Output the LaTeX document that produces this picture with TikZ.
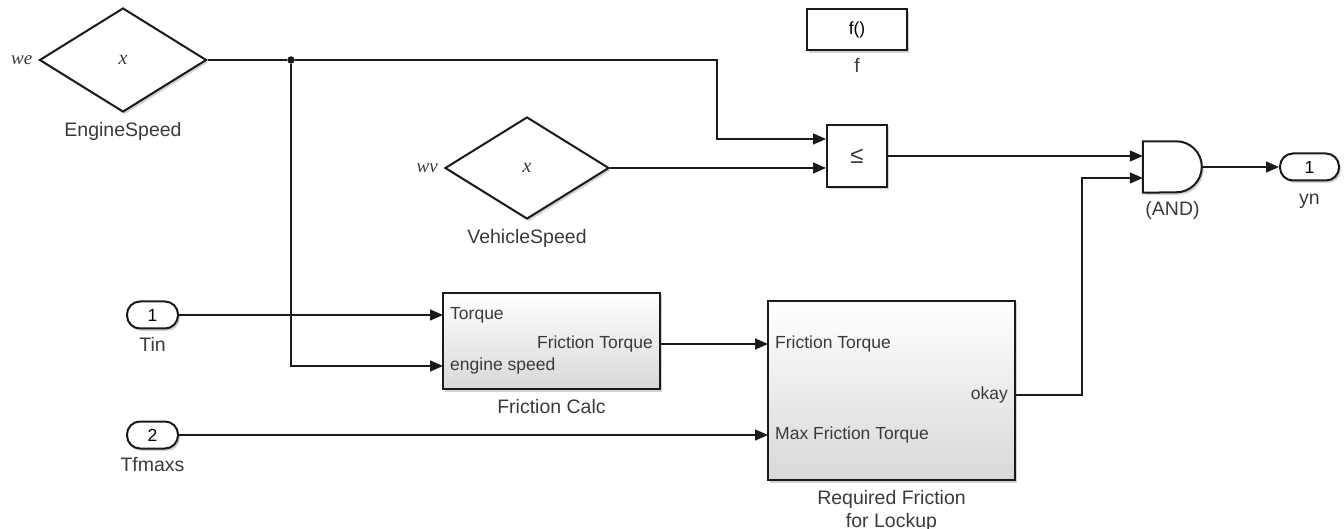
\documentclass[tikz,border=0pt]{standalone}
\usepackage{fontspec}
\setmainfont{Liberation Sans}
\newfontfamily\varfont{Liberation Serif}
\usetikzlibrary{arrows.meta, positioning, shapes.geometric, shadows}
\definecolor{ink}{HTML}{1A1A1A}
\definecolor{txtgray}{HTML}{3A3A3A}
\definecolor{shade}{HTML}{D8D8D8}

\begin{document}
\begin{tikzpicture}[
    x=1pt, y=-1pt,
    font=\fontsize{17.5}{20}\selectfont,
    shad/.style={drop shadow={shadow xshift=2pt, shadow yshift=-2.5pt, opacity=0.25, fill=black!70}},
    blk/.style={shad, draw=ink, line width=2pt, top color=white, bottom color=shade, inner sep=0pt},
    plain/.style={shad, draw=ink, line width=2pt, fill=white, inner sep=0pt},
    port/.style={plain, rounded corners=13pt, minimum height=27pt},
    val/.style={shad, diamond, draw=ink, line width=2pt, fill=white, inner sep=0pt, text=txtgray, font=\fontsize{20}{22}\selectfont\varfont\itshape},
    lbl/.style={text=txtgray, font=\fontsize{19.5}{23}\selectfont, inner sep=0pt, align=center},
    ptxt/.style={text=txtgray, inner xsep=7pt, inner ysep=1pt},
    var/.style={text=txtgray, font=\fontsize{19}{21}\selectfont\varfont\itshape, inner sep=0pt},
    wire/.style={ink, line width=1.4pt},
    ar/.style={wire, -{Triangle[length=13pt, width=11pt]}},
    dot/.style={circle, fill=ink, inner sep=0pt, minimum size=7.5pt}
  ]
    \useasboundingbox (0,0) rectangle (1344,529);

    % speed inputs
    \node[val, minimum width=167pt, minimum height=104pt] (engspd) at (123,60) {x};
    \node[var, left=6pt of engspd] {we};
    \node[lbl, below=9pt of engspd] {EngineSpeed};
    \node[val, minimum width=164pt, minimum height=102pt] (vehspd) at (527,168) {x};
    \node[var, left=6pt of vehspd] {wv};
    \node[lbl, below=9pt of vehspd] {VehicleSpeed};
    \node[dot] (jn) at (291,60) {};

    % function and compare
    \node[plain, minimum width=100pt, minimum height=41pt] (fcn) at (857,30) {f()};
    \node[lbl, below=7pt of fcn] {f};
    \node[plain, minimum width=60pt, minimum height=62pt, text=txtgray, font=\fontsize{24}{26}\selectfont] (relop) at (857,156) {≤};
    \coordinate (le-in1) at ([yshift=17pt]relop.west);
    \coordinate (le-in2) at ([yshift=-12pt]relop.west);

    % logic and output
    \node[minimum width=59pt, minimum height=51pt, inner sep=0pt] (andg) at (1172.5,167) {};
    \draw[shad, draw=ink, line width=2pt, fill=white] (andg.north west) -- ++(33.5,0)
      arc[start angle=-90, end angle=90, radius=25.5] -- (andg.south west) -- cycle;
    \node[lbl, below=8pt of andg] {(AND)};
    \coordinate (and-in1) at ([yshift=11pt]andg.west);
    \coordinate (and-in2) at ([yshift=-11pt]andg.west);
    \node[port, minimum width=59pt] (yn) at (1309.5,167) {1};
    \node[lbl, below=12pt of yn] {yn};

    % torque inputs
    \node[port, minimum width=51pt] (tin) at (152.5,315) {1};
    \node[lbl, below=8pt of tin] {Tin};
    \node[port, minimum width=51pt] (tfm) at (152.5,435) {2};
    \node[lbl, below=8pt of tfm] {Tfmaxs};

    % subsystems
    \node[blk, minimum width=217pt, minimum height=96pt] (fcalc) at (551.5,341) {};
    \node[ptxt, anchor=west] (fc-tq) at (443,315) {Torque};
    \node[ptxt, anchor=west] (fc-es) at (443,366) {engine speed};
    \node[ptxt, anchor=east] (fc-ft) at (660,344) {Friction Torque};
    \node[lbl, below=9pt of fcalc] {Friction Calc};

    \node[blk, minimum width=247pt, minimum height=179pt] (reqf) at (891.5,390.5) {};
    \node[ptxt, anchor=west] (rf-ft) at (768,344) {Friction Torque};
    \node[ptxt, anchor=west] (rf-mx) at (768,435) {Max Friction Torque};
    \node[ptxt, anchor=east] (rf-ok) at (1015,395) {okay};
    \node[lbl, below=9pt of reqf] {Required Friction\\for Lockup};

    % signal lines
    \draw[wire] (engspd.east) -- (jn);
    \draw[ar] (jn) -- ++(426,0) |- (le-in1);
    \draw[ar] (jn) |- (fc-es.west);
    \draw[ar] (vehspd.east) -- (le-in2);
    \draw[ar] (relop.east) -- (and-in1);
    \draw[ar] (tin) -- (fc-tq.west);
    \draw[ar] (fc-ft.east) -- (rf-ft.west);
    \draw[ar] (tfm) -- (rf-mx.west);
    \draw[ar] (rf-ok.east) -- ++(67,0) |- (and-in2);
    \draw[ar] (andg.east) -- (yn.west);
\end{tikzpicture}
\end{document}
